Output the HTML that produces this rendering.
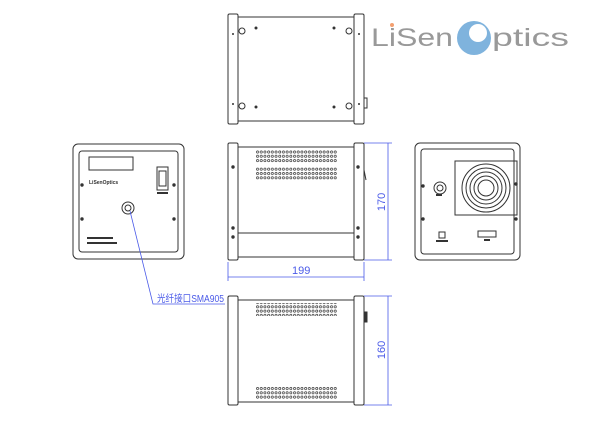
<!DOCTYPE html>
<html><head><meta charset="utf-8"><style>body{margin:0;background:#fff}svg{display:block}</style></head><body>
<svg width="601" height="422" viewBox="0 0 601 422" xmlns="http://www.w3.org/2000/svg" font-family="Liberation Sans, sans-serif">
<defs>
<pattern id="vent" x="256" y="0" width="3.7" height="4.3" patternUnits="userSpaceOnUse"><circle cx="1.5" cy="1.5" r="1.1" fill="none" stroke="#333" stroke-width="0.7"/></pattern>
</defs>
<g fill="none" stroke="#333" stroke-width="1">
<rect x="228" y="14" width="10" height="110" rx="1.5"/>
<rect x="354" y="14" width="10" height="110" rx="1.5"/>
<line x1="238" y1="17" x2="354" y2="17"/><line x1="238" y1="121" x2="354" y2="121"/>
<circle cx="242" cy="31" r="3"/><circle cx="242" cy="106" r="3"/><circle cx="349" cy="31" r="3"/><circle cx="349" cy="106" r="3"/>
<rect x="364" y="98" width="3" height="10"/>
<rect x="73" y="144" width="111" height="115" rx="5"/>
<rect x="79" y="151" width="99" height="101" rx="3"/>
<rect x="89" y="157" width="44" height="13"/>
<rect x="157" y="167" width="11" height="23"/>
<rect x="159" y="171" width="7" height="15"/>
<circle cx="128" cy="208" r="6"/><circle cx="128" cy="208" r="3"/>
<rect x="228" y="143" width="10" height="117" rx="1.5"/>
<rect x="354" y="143" width="10" height="117" rx="1.5"/>
<line x1="238" y1="147" x2="354" y2="147"/><line x1="238" y1="257" x2="354" y2="257"/>
<line x1="238" y1="233" x2="354" y2="233"/>
<line x1="364" y1="170" x2="366" y2="180"/>
<rect x="415" y="143" width="105" height="117" rx="5"/>
<rect x="421" y="149" width="93" height="105" rx="3"/>
<rect x="455" y="161" width="62" height="54"/>
<circle cx="486" cy="188" r="24"/><circle cx="486" cy="188" r="20"/><circle cx="486" cy="188" r="16"/><circle cx="486" cy="188" r="12"/><circle cx="486" cy="188" r="8"/>
<circle cx="440" cy="188" r="6"/><circle cx="440" cy="188" r="3"/>
<rect x="439" y="232" width="6" height="6"/>
<rect x="478" y="231" width="18" height="6"/>
<rect x="228" y="296" width="10" height="109" rx="1.5"/>
<rect x="354" y="296" width="10" height="109" rx="1.5"/>
<line x1="238" y1="300" x2="354" y2="300"/><line x1="238" y1="402" x2="354" y2="402"/>
<rect x="364" y="312" width="3" height="10" fill="#333"/>
</g>
<g fill="#333">
<circle cx="256" cy="28" r="1.5"/><circle cx="256" cy="107" r="1.5"/><circle cx="334" cy="28" r="1.5"/><circle cx="334" cy="107" r="1.5"/>
<circle cx="233" cy="34" r="1"/><circle cx="233" cy="104" r="1"/><circle cx="359" cy="34" r="1"/><circle cx="359" cy="104" r="1"/>
<circle cx="82" cy="185" r="1.7"/><circle cx="82" cy="219" r="1.7"/><circle cx="174" cy="185" r="1.7"/><circle cx="174" cy="219" r="1.7"/>
<circle cx="233" cy="167" r="1.7"/><circle cx="233" cy="228" r="1.7"/><circle cx="233" cy="237" r="1.7"/>
<circle cx="358" cy="167" r="1.7"/><circle cx="358" cy="228" r="1.7"/><circle cx="358" cy="237" r="1.7"/>
<circle cx="423" cy="186" r="1.7"/><circle cx="423" cy="219" r="1.7"/><circle cx="516" cy="184" r="1.7"/><circle cx="516" cy="219" r="1.7"/>
<rect x="157" y="192" width="11" height="2"/>
<rect x="87" y="237" width="26" height="2"/><rect x="87" y="242" width="30" height="2"/>
<rect x="436" y="240" width="12" height="2"/><rect x="484" y="239" width="6" height="2"/>
<rect x="436" y="194" width="6" height="2"/>
</g>
<text x="89" y="184" font-size="5" fill="#333" font-weight="bold">LiSenOptics</text>
<g fill="url(#vent)">
<rect x="256" y="150" width="81" height="13"/>
<rect x="256" y="167" width="81" height="13"/>
<rect x="256" y="303" width="81" height="13"/>
<rect x="256" y="386" width="81" height="13"/>
</g>
<circle cx="474" cy="38" r="17" fill="#7fb3dd"/>
<circle cx="478" cy="33" r="9" fill="#fff"/>
<text x="371" y="46" font-size="25" fill="#999" textLength="82" lengthAdjust="spacingAndGlyphs">LiSen</text>
<text x="492" y="46" font-size="25" fill="#999" textLength="77" lengthAdjust="spacingAndGlyphs">ptics</text>
<circle cx="392" cy="25" r="2" fill="#f4a070"/>
<g stroke="#4a5ae8" stroke-width="0.8" fill="none">
<line x1="364" y1="143" x2="392" y2="143"/><line x1="364" y1="260" x2="392" y2="260"/>
<line x1="388" y1="143" x2="388" y2="260"/>
<line x1="228" y1="262" x2="228" y2="281"/><line x1="364" y1="262" x2="364" y2="281"/>
<line x1="228" y1="277" x2="364" y2="277"/>
<line x1="364" y1="296" x2="392" y2="296"/><line x1="364" y1="405" x2="392" y2="405"/>
<line x1="388" y1="296" x2="388" y2="405"/>
<polyline points="130,211 153,304 225,304"/>
</g>
<g fill="#4a5ae8" font-size="11">
<text x="292" y="274">199</text>
<text transform="translate(385,202) rotate(-90)" text-anchor="middle">170</text>
<text transform="translate(385,350) rotate(-90)" text-anchor="middle">160</text>
<text x="157" y="302" font-family="Liberation Sans, Noto Sans CJK SC, sans-serif" font-size="10" textLength="67" lengthAdjust="spacingAndGlyphs">光纤接口SMA905</text>
</g>
</svg>
</body></html>
